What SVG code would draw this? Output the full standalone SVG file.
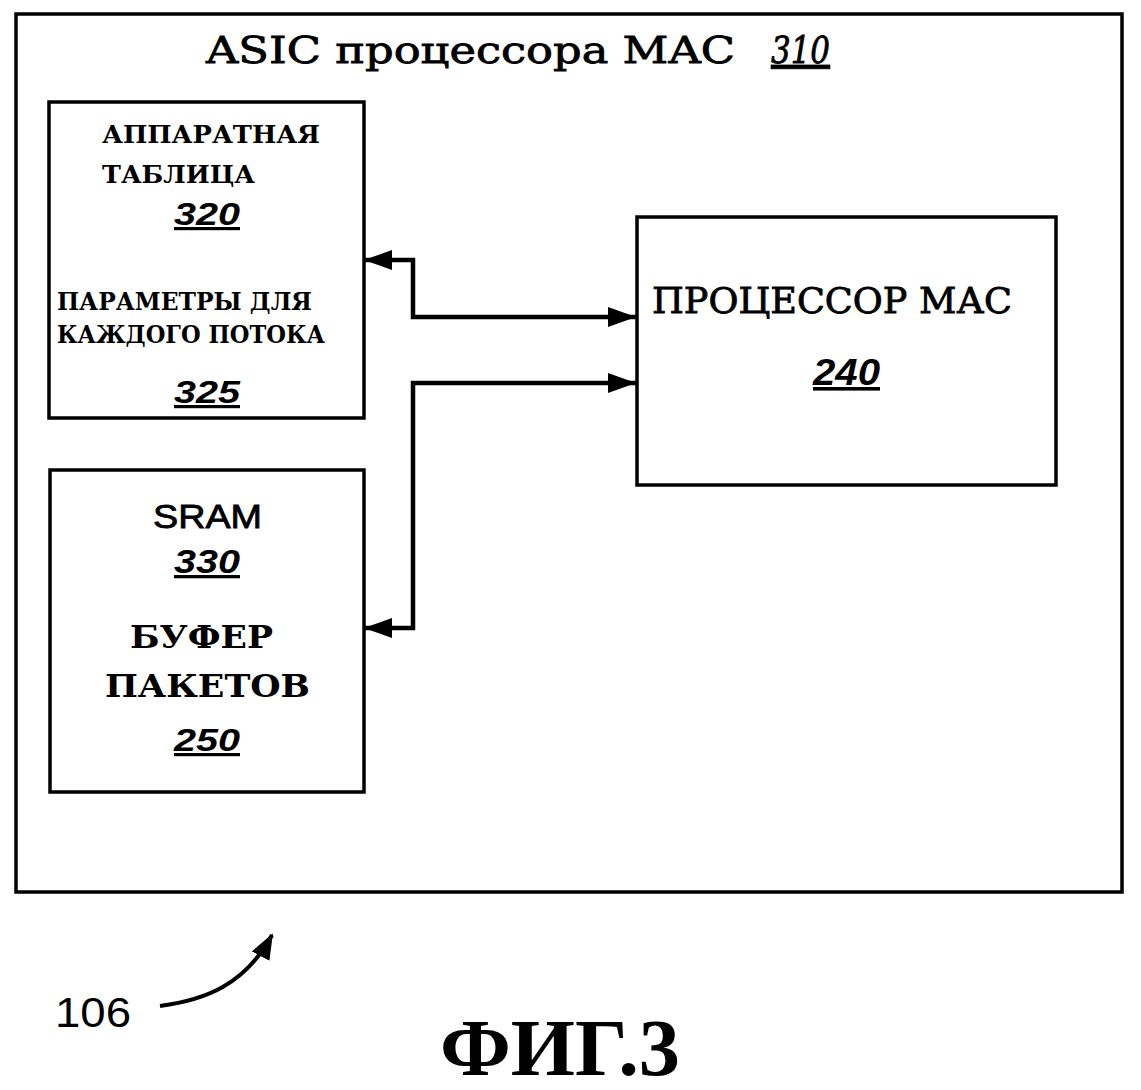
<svg xmlns="http://www.w3.org/2000/svg" width="1141" height="1090" viewBox="0 0 1141 1090">
<style>
.box{fill:none;stroke:#000;stroke-width:3.5}
.mono{font-family:"DejaVu Serif","Liberation Serif",serif;font-weight:bold;fill:#000}
.reg{font-family:"DejaVu Serif","Liberation Serif",serif;font-weight:normal;fill:#000;stroke:#000;stroke-width:0.8}
.num{font-family:"Liberation Sans",Arial,sans-serif;font-weight:bold;font-style:italic;fill:#000;text-decoration:underline}
.sans{font-family:"Liberation Sans",Arial,sans-serif;fill:#000}
.conn{fill:none;stroke:#000;stroke-width:4.5}
</style>
<defs>
<marker id="ah" markerUnits="userSpaceOnUse" markerWidth="30" markerHeight="22" refX="28" refY="10" orient="auto-start-reverse">
<path d="M0,0 L28,10 L0,20 z" fill="#000"/>
</marker>
<marker id="ah2" markerUnits="userSpaceOnUse" markerWidth="30" markerHeight="22" refX="24" refY="10" orient="auto">
<path d="M0,0 L26,10 L0,20 z" fill="#000"/>
</marker>
</defs>
<rect width="1141" height="1090" fill="#fff"/>

<g id="asic310">
<rect class="box" x="16" y="14" width="1106" height="878"/>
<text class="reg" x="206" y="63" font-size="38" textLength="529" lengthAdjust="spacingAndGlyphs">ASIC процессора MAC</text>
<text class="reg" x="771" y="63" font-size="38" font-style="italic" text-decoration="underline" textLength="59" lengthAdjust="spacingAndGlyphs">310</text>
</g>

<g id="table320">
<rect class="box" x="49" y="102" width="315" height="316"/>
<text class="mono" x="102" y="143" font-size="25" textLength="218" lengthAdjust="spacingAndGlyphs">АППАРАТНАЯ</text>
<text class="mono" x="102" y="183" font-size="25" textLength="153" lengthAdjust="spacingAndGlyphs">ТАБЛИЦА</text>
<text class="num" x="174" y="225" font-size="32" textLength="66" lengthAdjust="spacingAndGlyphs">320</text>
<text class="mono" x="57" y="310" font-size="25" textLength="255" lengthAdjust="spacingAndGlyphs">ПАРАМЕТРЫ ДЛЯ</text>
<text class="mono" x="57" y="343" font-size="25" textLength="268" lengthAdjust="spacingAndGlyphs">КАЖДОГО ПОТОКА</text>
<text class="num" x="174" y="403" font-size="32" textLength="66" lengthAdjust="spacingAndGlyphs">325</text>
</g>

<g id="sram330">
<rect class="box" x="50" y="470" width="314" height="322"/>
<text class="sans" x="153" y="528" font-size="33" stroke="#000" stroke-width="0.8" textLength="109" lengthAdjust="spacingAndGlyphs">SRAM</text>
<text class="num" x="174" y="573" font-size="33" textLength="66" lengthAdjust="spacingAndGlyphs">330</text>
<text class="mono" x="130" y="648" font-size="32" textLength="143" lengthAdjust="spacingAndGlyphs">БУФЕР</text>
<text class="mono" x="105" y="697" font-size="32" textLength="205" lengthAdjust="spacingAndGlyphs">ПАКЕТОВ</text>
<text class="num" x="174" y="751" font-size="32" textLength="66" lengthAdjust="spacingAndGlyphs">250</text>
</g>

<g id="mac240">
<rect class="box" x="637" y="217" width="419" height="268"/>
<text class="reg" x="652" y="313" font-size="35" textLength="360" lengthAdjust="spacingAndGlyphs">ПРОЦЕССОР  МАС</text>
<text class="num" x="813" y="385" font-size="36" textLength="67" lengthAdjust="spacingAndGlyphs">240</text>
</g>

<g id="connectors">
<path class="conn" d="M364,260 H413 V317 H636" marker-start="url(#ah)" marker-end="url(#ah)"/>
<path class="conn" d="M636,383 H413 V628 H364" marker-start="url(#ah)" marker-end="url(#ah)"/>
<path d="M160,1006 C205,1000 245,985 272,935" fill="none" stroke="#000" stroke-width="4" marker-end="url(#ah2)"/>
</g>

<g id="label106">
<text class="sans" x="55" y="1027" font-size="42" textLength="76" lengthAdjust="spacingAndGlyphs">106</text>
</g>

<g id="caption">
<text x="440" y="1075" font-family="'Liberation Serif','Times New Roman',serif" font-weight="bold" font-size="80" textLength="240" lengthAdjust="spacingAndGlyphs">ФИГ.3</text>
</g>
</svg>
